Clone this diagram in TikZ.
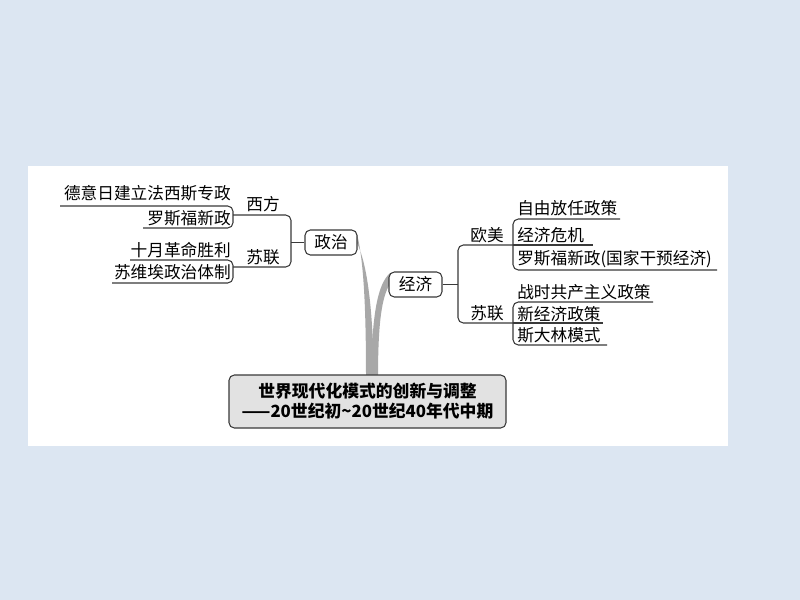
\documentclass[tikz,border=0pt]{standalone}
\usepackage{fontspec}
\setmainfont{Noto Sans CJK SC}
\definecolor{bgblue}{HTML}{DCE6F2}
\definecolor{linegray}{HTML}{3A3A3A}
\definecolor{branchgray}{HTML}{A8A8A8}
\definecolor{rootfill}{HTML}{E2E2E2}
\begin{document}
\begin{tikzpicture}[x=0.75pt,y=-0.75pt,
  lbl/.style={inner sep=0pt,font=\fontsize{12.5}{15}\selectfont},
  conn/.style={draw=linegray,line width=0.8pt,rounded corners=4pt},
  topic/.style={draw=linegray,line width=0.8pt,rounded corners=4pt,fill=white,
     inner sep=0pt,minimum height=18.75pt,font=\fontsize{12.5}{15}\selectfont},
  branch/.style={fill=branchgray,draw=none}]
\useasboundingbox (0,0) rectangle (800,600);
\fill[bgblue] (0,0) rectangle (800,600);
\fill[white] (28,166) rectangle (728,446);

% thick branches from root to main topics
\path[branch] (357,234) .. controls (364,262) and (366,312) .. (366,377)
   -- (374,377) .. controls (373,320) and (369,268) .. (357,243) -- cycle;
\path[branch] (390,273) .. controls (378,284) and (372,312) .. (371,377)
   -- (378,377) .. controls (378,322) and (382,296) .. (390,284) -- cycle;

% main topics
\node[topic,minimum width=39pt] (zz) at (331,242.5) {政治};
\node[topic,minimum width=39.75pt] (jj) at (415.5,284.5) {经济};
\node[draw=linegray,line width=0.8pt,rounded corners=4pt,fill=rootfill,
  minimum width=207.75pt,minimum height=39.75pt,inner sep=0pt,align=center,
  font=\fontsize{12.6}{15}\selectfont\bfseries] (root) at (367.5,401.5)
  {世界现代化模式的创新与调整\\——20世纪初\textasciitilde20世纪40年代中期};

% left side labels
\node[lbl,anchor=east] (l1) at (231,193) {德意日建立法西斯专政};
\node[lbl,anchor=east] (l2) at (231,218) {罗斯福新政};
\node[lbl,anchor=east] (l3) at (231,250) {十月革命胜利};
\node[lbl,anchor=east] (l4) at (231,272) {苏维埃政治体制};
\node[lbl] (xf) at (263,204) {西方};
\node[lbl] (sl1) at (263,257) {苏联};

% right side labels
\node[lbl,anchor=west] (r1) at (517,208) {自由放任政策};
\node[lbl,anchor=west] (r2) at (517,235) {经济危机};
\node[lbl,anchor=west] (r3) at (517,259) {罗斯福新政(国家干预经济)};
\node[lbl,anchor=west] (r4) at (517,292) {战时共产主义政策};
\node[lbl,anchor=west] (r5) at (517,314) {新经济政策};
\node[lbl,anchor=west] (r6) at (517,335) {斯大林模式};
\node[lbl] (om) at (487,235) {欧美};
\node[lbl] (sl2) at (487,313) {苏联};

% junction coordinates
\coordinate (zspine) at (291,242.5);
\coordinate (jspine) at (458,284.5);

% left connectors
\draw[conn] (zz.west) -- (zspine);
\draw[conn] (233,215) -- (291,215) -- (291,267) -- (233,267);
\draw[conn] (60,206) -- (233,206) -- (233,228) -- (143,228);
\draw[conn] (130,260) -- (233,260) -- (233,283) -- (112,283);

% right connectors
\draw[conn] (jj.east) -- (jspine);
\draw[conn] (513,245) -- (458,245) -- (458,323) -- (513,323);
\draw[conn] (620,219) -- (513,219) -- (513,270) -- (717,270);
\draw[conn] (513,245) -- (593,245);
\draw[conn] (653,302) -- (513,302) -- (513,345) -- (607,345);
\draw[conn] (513,323) -- (603,323);
\end{tikzpicture}
\end{document}
